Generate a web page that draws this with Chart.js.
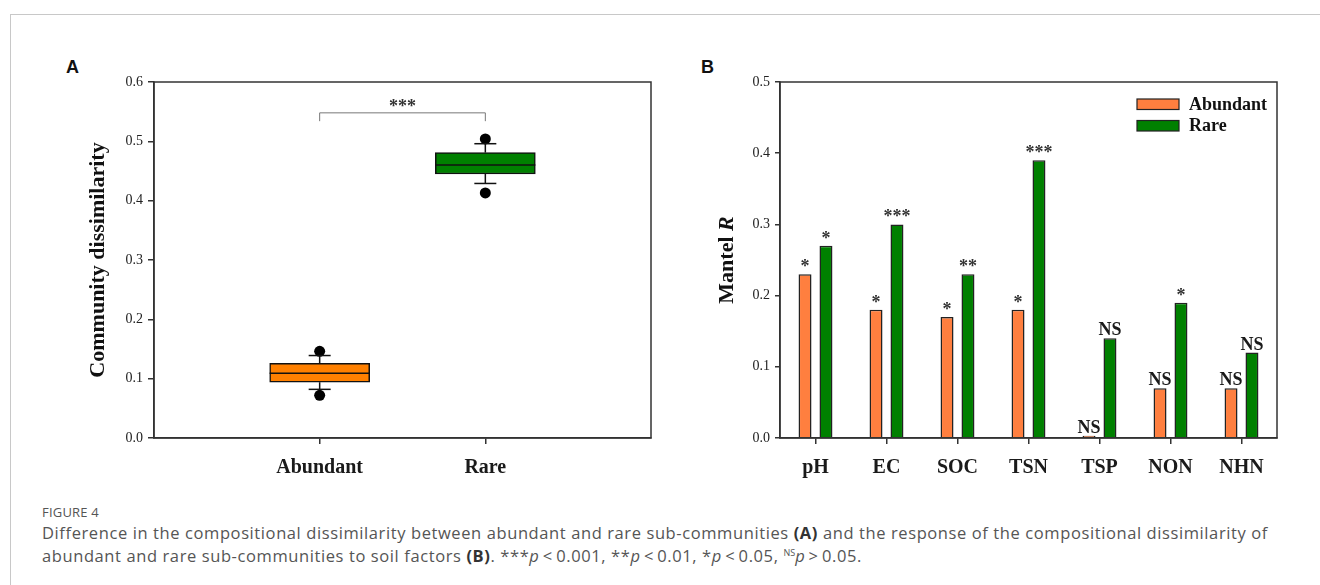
<!DOCTYPE html>
<html><head><meta charset="utf-8">
<script src="https://cdn.jsdelivr.net/npm/chart.js@4.4.0/dist/chart.umd.min.js"></script>
<style>
html,body{margin:0;padding:0;background:#fff;}
body{width:1320px;height:585px;position:relative;overflow:hidden;font-family:"Open Sans","Noto Sans",sans-serif;}
#frame{position:absolute;left:10px;top:14px;right:0;bottom:0;border-top:1px solid #c8c8c8;border-left:1px solid #c8c8c8;}
.plabel{position:absolute;font:bold 18px "Liberation Sans",Arial,sans-serif;color:#111;line-height:18px;}
#wa{position:absolute;left:70px;top:60px;width:600px;height:430px;}
#wb{position:absolute;left:690px;top:60px;width:610px;height:430px;}
#cap{position:absolute;left:42px;top:503px;color:#555;white-space:nowrap;}
#cap .fig{font-size:13px;letter-spacing:0.2px;line-height:18px;}
#cap .txt{font-size:16.5px;letter-spacing:0.6px;line-height:23px;margin-top:0px;}
#cap .sup{font-size:9px;position:relative;top:-6px;line-height:0;letter-spacing:0;}
#cap b{color:#333;}
</style></head><body>
<div id="frame"></div>
<div class="plabel" style="left:66px;top:58px;">A</div>
<div class="plabel" style="left:701px;top:58px;">B</div>
<div id="wa"><canvas id="ca"></canvas></div>
<div id="wb"><canvas id="cb"></canvas></div>
<div id="cap">
<div class="fig">FIGURE 4</div>
<div class="txt">Difference in the compositional dissimilarity between abundant and rare sub-communities <b>(A)</b> and the response of the compositional dissimilarity of<br>abundant and rare sub-communities to soil factors <b>(B)</b>. ***<i>p</i>&#8201;&lt;&#8201;0.001, **<i>p</i>&#8201;&lt;&#8201;0.01, *<i>p</i>&#8201;&lt;&#8201;0.05, <span class="sup">NS</span><i>p</i>&#8201;&gt;&#8201;0.05.</div>
</div>
<script>
// ---------- Panel A data ----------
const groups = ['Abundant', 'Rare'];
const groupColors = ['#ff8000', '#008000'];
const boxQ1 = [0.094, 0.445];
const boxMedian = [0.109, 0.460];
const boxQ3 = [0.126, 0.481];
const whiskerLow = [0.082, 0.429];
const whiskerHigh = [0.139, 0.496];
const outlierLow = [0.072, 0.413];
const outlierHigh = [0.146, 0.504];
const bracketLabel = '***';
const bracketValue = 0.548;
const bracketDrop = 0.014;
const yTicksA = [0, 0.1, 0.2, 0.3, 0.4, 0.5, 0.6];

// ---------- Panel B data ----------
const factors = ['pH', 'EC', 'SOC', 'TSN', 'TSP', 'NON', 'NHN'];
const abundantR = [0.23, 0.18, 0.17, 0.18, 0.003, 0.07, 0.07];
const rareR = [0.27, 0.30, 0.23, 0.39, 0.14, 0.19, 0.12];
const abundantSig = ['*', '*', '*', '*', 'NS', 'NS', 'NS'];
const rareSig = ['*', '***', '**', '***', 'NS', '*', 'NS'];
const yTicksB = [0, 0.1, 0.2, 0.3, 0.4, 0.5];

const SERIF = '"Liberation Serif","Times New Roman",serif';
Chart.defaults.animation = false;
Chart.defaults.plugins.tooltip.enabled = false;
Chart.defaults.plugins.legend.display = false;
Chart.defaults.color = '#222';

const framePlugin = {
  id: 'frame',
  afterDraw(chart) {
    const {ctx, chartArea: a} = chart;
    ctx.save();
    ctx.strokeStyle = '#333';
    ctx.lineWidth = 1.5;
    ctx.strokeRect(a.left, a.top, a.right - a.left, a.bottom - a.top);
    ctx.restore();
  }
};

// ---------- Panel A ----------
const BOX_W = 100, CAP_W = 22;
const boxPlugin = {
  id: 'boxExtras',
  afterDatasetsDraw(chart) {
    const {ctx, scales: {x, y}} = chart;
    const seg = (x1, y1, x2, y2) => { ctx.beginPath(); ctx.moveTo(x1, y1); ctx.lineTo(x2, y2); ctx.stroke(); };
    ctx.save();
    ctx.strokeStyle = '#111';
    ctx.lineWidth = 1.5;
    groups.forEach((g, i) => {
      const px = x.getPixelForValue(i + 1);
      const yq1 = y.getPixelForValue(boxQ1[i]);
      const yq3 = y.getPixelForValue(boxQ3[i]);
      const ywl = y.getPixelForValue(whiskerLow[i]);
      const ywh = y.getPixelForValue(whiskerHigh[i]);
      const ymed = y.getPixelForValue(boxMedian[i]);
      seg(px, yq3, px, ywh);
      seg(px - CAP_W / 2, ywh, px + CAP_W / 2, ywh);
      seg(px, yq1, px, ywl);
      seg(px - CAP_W / 2, ywl, px + CAP_W / 2, ywl);
      seg(px - BOX_W / 2, ymed, px + BOX_W / 2, ymed);
    });
    // significance bracket
    const x1 = x.getPixelForValue(1), x2 = x.getPixelForValue(2);
    const yb = y.getPixelForValue(bracketValue);
    const yd = y.getPixelForValue(bracketValue - bracketDrop);
    ctx.strokeStyle = '#777';
    ctx.lineWidth = 1;
    ctx.beginPath();
    ctx.moveTo(x1, yd); ctx.lineTo(x1, yb); ctx.lineTo(x2, yb); ctx.lineTo(x2, yd);
    ctx.stroke();
    ctx.fillStyle = '#333';
    ctx.font = 'bold 18px ' + SERIF;
    ctx.textAlign = 'center';
    ctx.textBaseline = 'alphabetic';
    ctx.fillText(bracketLabel, (x1 + x2) / 2, yb - 1);
    ctx.restore();
  }
};

new Chart(document.getElementById('ca'), {
  type: 'bar',
  data: {
    datasets: [
      {
        label: 'box',
        data: groups.map((g, i) => ({x: i + 1, y: [boxQ1[i], boxQ3[i]]})),
        backgroundColor: groupColors,
        borderColor: '#111',
        borderWidth: 1.5,
        borderSkipped: false,
        barThickness: BOX_W,
        order: 2
      },
      {
        type: 'scatter',
        label: 'outliers',
        data: groups.flatMap((g, i) => [{x: i + 1, y: outlierLow[i]}, {x: i + 1, y: outlierHigh[i]}]),
        pointRadius: 5.5,
        pointBackgroundColor: '#000',
        pointBorderColor: '#000',
        pointBorderWidth: 0,
        order: 1
      }
    ]
  },
  options: {
    responsive: true,
    maintainAspectRatio: false,
    layout: {padding: {left: 0, right: 19, top: 22, bottom: 0}},
    scales: {
      x: {
        type: 'linear',
        min: 0, max: 3,
        offset: false,
        afterBuildTicks: s => { s.ticks = groups.map((g, i) => ({value: i + 1})); },
        afterFit: s => { s.height = 52; },
        grid: {display: true, drawOnChartArea: false, drawTicks: true, tickLength: 6, color: '#333', lineWidth: 1.5, offset: false},
        border: {display: true, color: '#333', width: 1.5},
        ticks: {
          autoSkip: false,
          maxRotation: 0,
          padding: 12,
          color: '#1a1a1a',
          font: {family: SERIF, size: 20, weight: 'bold'},
          callback: v => groups[v - 1] || ''
        }
      },
      y: {
        min: 0, max: 0.6,
        afterBuildTicks: s => { s.ticks = yTicksA.map(v => ({value: v})); },
        afterFit: s => { s.width = 84; },
        grid: {display: true, drawOnChartArea: false, drawTicks: true, tickLength: 6, color: '#333', lineWidth: 1.5},
        border: {display: true, color: '#333', width: 1.5},
        ticks: {padding: 5, color: '#222', font: {family: SERIF, size: 14}, callback: v => Number(v).toFixed(1)},
        title: {display: true, text: 'Community dissimilarity', color: '#111', font: {family: SERIF, size: 22, weight: 'bold'}, padding: {top: 15, bottom: 0}}
      }
    }
  },
  plugins: [boxPlugin, framePlugin]
});

// ---------- Panel B ----------
const sigPlugin = {
  id: 'sig',
  afterDatasetsDraw(chart) {
    const {ctx} = chart;
    const sigs = [abundantSig, rareSig];
    ctx.save();
    ctx.textAlign = 'center';
    ctx.textBaseline = 'alphabetic';
    chart.data.datasets.forEach((ds, di) => {
      const meta = chart.getDatasetMeta(di);
      meta.data.forEach((el, i) => {
        const s = sigs[di][i];
        if (s === 'NS') { ctx.font = 'bold 18px ' + SERIF; ctx.fillStyle = '#1a1a1a'; ctx.fillText(s, el.x, el.y - 3); }
        else { ctx.font = 'bold 18px ' + SERIF; ctx.fillStyle = '#333'; ctx.fillText(s, el.x, el.y - 2); }
      });
    });
    ctx.restore();
  }
};
const legendPlugin = {
  id: 'innerLegend',
  afterDraw(chart) {
    const {ctx, chartArea: a} = chart;
    ctx.save();
    chart.data.datasets.forEach((ds, i) => {
      const bx = a.right - 140, by = a.top + 17 + i * 21.5;
      ctx.fillStyle = ds.backgroundColor;
      ctx.fillRect(bx, by, 42, 10.5);
      ctx.strokeStyle = '#222';
      ctx.lineWidth = 1.2;
      ctx.strokeRect(bx, by, 42, 10.5);
      ctx.fillStyle = '#111';
      ctx.font = 'bold 18px ' + SERIF;
      ctx.textAlign = 'left';
      ctx.textBaseline = 'middle';
      ctx.fillText(ds.label, bx + 52, by + 6);
    });
    ctx.restore();
  }
};
const yTitleB = {
  id: 'yTitleB',
  afterDraw(chart) {
    const {ctx, chartArea: a} = chart;
    ctx.save();
    const cx = 37, cy = (a.top + a.bottom) / 2;
    ctx.translate(cx, cy);
    ctx.rotate(-Math.PI / 2);
    const f1 = 'bold 22px ' + SERIF, f2 = 'italic bold 22px ' + SERIF;
    ctx.font = f1; const w1 = ctx.measureText('Mantel ').width;
    ctx.font = f2; const w2 = ctx.measureText('R').width;
    const start = -(w1 + w2) / 2;
    ctx.fillStyle = '#111';
    ctx.textBaseline = 'middle';
    ctx.textAlign = 'left';
    ctx.font = f1; ctx.fillText('Mantel ', start, 0);
    ctx.font = f2; ctx.fillText('R', start + w1, 0);
    ctx.restore();
  }
};

new Chart(document.getElementById('cb'), {
  type: 'bar',
  data: {
    labels: factors,
    datasets: [
      {label: 'Abundant', data: abundantR, backgroundColor: '#ff7f3f', borderColor: '#222', borderWidth: 1.5, barPercentage: 0.62, categoryPercentage: 0.59},
      {label: 'Rare', data: rareR, backgroundColor: '#008000', borderColor: '#222', borderWidth: 1.5, barPercentage: 0.62, categoryPercentage: 0.59}
    ]
  },
  options: {
    responsive: true,
    maintainAspectRatio: false,
    layout: {padding: {left: 0, right: 23, top: 22, bottom: 0}},
    scales: {
      x: {
        afterFit: s => { s.height = 52; },
        grid: {display: true, drawOnChartArea: false, drawTicks: true, tickLength: 6, color: '#333', lineWidth: 1.5, offset: false},
        border: {display: true, color: '#333', width: 1.5},
        ticks: {padding: 12, color: '#1a1a1a', font: {family: SERIF, size: 20, weight: 'bold'}}
      },
      y: {
        min: 0, max: 0.5,
        afterBuildTicks: s => { s.ticks = yTicksB.map(v => ({value: v})); },
        afterFit: s => { s.width = 90; },
        grid: {display: true, drawOnChartArea: false, drawTicks: true, tickLength: 5, color: '#333', lineWidth: 1.5},
        border: {display: true, color: '#333', width: 1.5},
        ticks: {padding: 5, color: '#222', font: {family: SERIF, size: 14}, callback: v => Number(v).toFixed(1)}
      }
    }
  },
  plugins: [sigPlugin, legendPlugin, yTitleB, framePlugin]
});
</script>
</body></html>
